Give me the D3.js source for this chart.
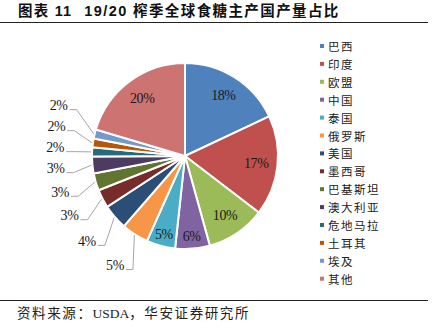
<!DOCTYPE html>
<html>
<head>
<meta charset="utf-8">
<script src="https://cdn.jsdelivr.net/npm/d3@7"></script>
<style>
  html, body { margin: 0; padding: 0; background: #fff; }
  svg { display: block; }
</style>
</head>
<body>
<div id="chart"></div>
<script>
// ---- data ----
const categories = ["巴西","印度","欧盟","中国","泰国","俄罗斯","美国","墨西哥","巴基斯坦","澳大利亚","危地马拉","土耳其","埃及","其他"];
const shares = [18.0, 17.4, 10.3, 6.0, 5.0, 4.7, 4.4, 3.2, 3.0, 2.9, 1.6, 1.5, 1.6, 20.4];
const colors = ["#4F81BD","#C0504D","#9BBB59","#8064A2","#4BACC6","#F79646","#2C4D75","#772C2A","#5F7530","#4D3B62","#276A7C","#B65708","#729ACA","#CD7371"];
const titleParts = ["图表 11", "19/20 榨季全球食糖主产国产量占比"];
const sourceParts = ["资料来源：", "USDA", "，华安证券研究所"];

// ---- layout ----
const W = 441, H = 333;
const cx = 185, cy = 156, r = 93;
const svg = d3.select("#chart").append("svg").attr("width", W).attr("height", H);
svg.append("rect").attr("width", W).attr("height", H).attr("fill", "#fff");

// title
const title = svg.append("text").attr("x", 18).attr("y", 16)
  .attr("font-family", "'Liberation Sans','Noto Sans CJK SC',sans-serif")
  .attr("font-weight", "bold").attr("font-size", 14.5).attr("fill", "#111");
title.append("tspan").text(titleParts[0]).attr("letter-spacing", 1.2);
title.append("tspan").attr("dx", 12).text(titleParts[1]).attr("letter-spacing", 1.4);

svg.append("line").attr("x1", 0).attr("x2", 428).attr("y1", 22.5).attr("y2", 22.5)
  .attr("stroke", "#222").attr("stroke-width", 1.2);
svg.append("line").attr("x1", 0).attr("x2", 428).attr("y1", 300.5).attr("y2", 300.5)
  .attr("stroke", "#222").attr("stroke-width", 1);

const src = svg.append("text").attr("x", 17).attr("y", 318)
  .attr("font-family", "'Liberation Serif','Noto Sans CJK SC',serif")
  .attr("font-size", 13.5).attr("fill", "#222");
src.append("tspan").attr("letter-spacing", 1.6).text(sourceParts[0]);
src.append("tspan").attr("letter-spacing", 0).text(sourceParts[1]);
src.append("tspan").attr("letter-spacing", 1.6).text(sourceParts[2]);

// pie
const pie = d3.pie().sort(null).value(d => d)(shares);
const arc = d3.arc().innerRadius(0).outerRadius(r);
const g = svg.append("g").attr("transform", `translate(${cx},${cy})`);
g.selectAll("path.slice").data(pie).join("path")
  .attr("class", "slice")
  .attr("d", arc)
  .attr("fill", (d, i) => colors[i])
  .attr("stroke", "#fff").attr("stroke-width", 2).attr("stroke-linejoin", "round");

const fmt = v => Math.round(v) + "%";
const mid = d => (d.startAngle + d.endAngle) / 2;
const labelFont = "'Liberation Serif','Times New Roman',serif";
const labelSize = 14;

// inside labels
const inside = pie.filter(d => d.value >= 4.9);
const inR = d => r * ((d.endAngle - d.startAngle) > 0.6 ? 0.77 : 0.87);
g.selectAll("text.in").data(inside).join("text")
  .attr("class", "in")
  .attr("x", d => Math.sin(mid(d)) * inR(d))
  .attr("y", d => -Math.cos(mid(d)) * inR(d))
  .attr("text-anchor", "middle").attr("dominant-baseline", "central")
  .attr("font-family", labelFont).attr("font-size", labelSize)
  .attr("letter-spacing", -0.4).attr("fill", "#1a1a1a")
  .text(d => fmt(d.value));

// outside labels
const R = 130, gap = 21;
const outside = pie.filter(d => d.value < 4.9).map(d => ({
  d,
  x: Math.sin(mid(d)) * R,
  y: -Math.cos(mid(d)) * R,
  ax: Math.sin(mid(d)) * (r + 1),
  ay: -Math.cos(mid(d)) * (r + 1)
}));
outside.sort((a, b) => b.y - a.y);
for (let i = 1; i < outside.length; i++) {
  if (outside[i].y > outside[i - 1].y - gap) outside[i].y = outside[i - 1].y - gap;
}
const outG = g.selectAll("g.out").data(outside).join("g").attr("class", "out");
outG.append("text")
  .attr("x", o => o.x).attr("y", o => o.y)
  .attr("text-anchor", "middle").attr("dominant-baseline", "central")
  .attr("font-family", labelFont).attr("font-size", labelSize)
  .attr("letter-spacing", -0.4).attr("fill", "#1a1a1a")
  .text(o => fmt(o.d.value))
  .each(function (o) { o.w = this.getComputedTextLength(); });
outG.insert("polyline", "text")
  .attr("points", o => {
    const x0 = o.x + o.w / 2 + 2, y0 = o.y + 4;
    return [[x0, y0], [x0 + 7, y0], [o.ax, o.ay]].map(p => p.join(",")).join(" ");
  })
  .attr("fill", "none").attr("stroke", "#A6A6A6").attr("stroke-width", 1);

// legend
const lx = 320, ly0 = 46, step = 17.9;
const leg = svg.append("g").selectAll("g").data(categories).join("g")
  .attr("transform", (c, i) => `translate(${lx},${ly0 + i * step})`);
leg.append("rect").attr("x", 0).attr("y", -2).attr("width", 4).attr("height", 4)
  .attr("fill", (c, i) => colors[i]);
leg.append("text").attr("x", 8).attr("y", 0).attr("dominant-baseline", "central")
  .attr("font-family", "'Noto Sans CJK SC',sans-serif").attr("font-size", 11.5)
  .attr("letter-spacing", 1.5).attr("fill", "#222").text(c => c);
</script>
</body>
</html>
